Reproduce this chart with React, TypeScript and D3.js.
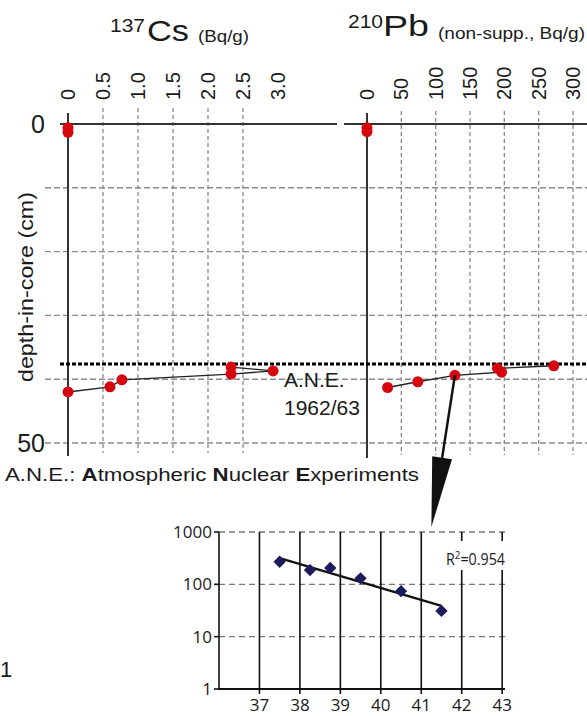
import React from 'react'
import * as d3 from 'd3'

// 137Cs profile (depth in cm, activity in Bq/g)
const csSurfaceDepth = [0.6, 1.3]
const csSurfaceValue = [0, 0]
const csDepth = [38.1, 38.7, 39.2, 40.1, 41.2, 42.0]
const csValue = [2.33, 2.93, 2.33, 0.77, 0.6, 0]

// 210Pb profile (non-supported, Bq/g)
const pbSurfaceDepth = [0.6, 1.2]
const pbSurfaceValue = [0, 0]
const pbDepth = [37.9, 38.3, 38.9, 39.4, 40.4, 41.3]
const pbValue = [272, 190, 196, 128, 74, 30]

// inset: log 210Pb against depth
const insetDepth = [37.5, 38.25, 38.75, 39.5, 40.5, 41.5]
const insetPb = [270, 187, 205, 130, 74, 31]

const csTicks = [0, 0.5, 1.0, 1.5, 2.0, 2.5, 3.0]
const csTickLabels = ['0', '0.5', '1.0', '1.5', '2.0', '2.5', '3.0']
const pbTicks = [0, 50, 100, 150, 200, 250, 300]
const depthGrid = [10, 20, 30, 40, 50]
const depthLabels = [0, 50]
const aneDepth = 37.6
const insetXTicks = [37, 38, 39, 40, 41, 42, 43]
const insetYTicks = [1, 10, 100, 1000]
const r2Label = '0.954'

const RED = '#d6060f'
const NAVY = '#1c1c5c'
const SANS = '"Liberation Sans", Arial, sans-serif'
const INSET_FONT = '"Open Sans", sans-serif'

export default function App() {
  const W = 587
  const H = 716

  const y = d3.scaleLinear().domain([0, 50]).range([124, 443])
  const xCs = d3.scaleLinear().domain([0, 3]).range([68, 278])
  const xPb = d3.scaleLinear().domain([0, 300]).range([367, 573])

  const xIn = d3.scaleLinear().domain([36, 43.07]).range([219, 505])
  const yIn = d3.scaleLog().domain([1, 1000]).range([689, 532])

  const csLine = d3.line<number>()
    .x((_, i) => xCs(csValue[i]))
    .y(d => y(d))
  const pbLine = d3.line<number>()
    .x((_, i) => xPb(pbValue[i]))
    .y(d => y(d))

  // exponential fit (least squares on log10) for the inset trend line
  const lx = insetDepth
  const ly = insetPb.map(v => Math.log10(v))
  const mx = d3.mean(lx) as number
  const my = d3.mean(ly) as number
  const slope = d3.sum(lx.map((v, i) => (v - mx) * (ly[i] - my))) / d3.sum(lx.map(v => (v - mx) ** 2))
  const fit = (d: number) => Math.pow(10, my + slope * (d - mx))
  const fitX0 = d3.min(insetDepth) as number
  const fitX1 = d3.max(insetDepth) as number

  const diamond = d3.symbol().type(d3.symbolSquare).size(76)()

  // arrow from the 3rd Pb point to the inset
  const ax0 = xPb(pbValue[3])
  const ay0 = y(pbDepth[3])
  const tipX = xIn(41.25)
  const tipY = yIn(1000) - 5
  const len = Math.hypot(tipX - ax0, tipY - ay0)
  const ux = (tipX - ax0) / len
  const uy = (tipY - ay0) / len
  const headLen = 70
  const bx = tipX - ux * headLen
  const by = tipY - uy * headLen
  const hw = 10
  const head = `M${tipX},${tipY}L${bx - uy * hw},${by + ux * hw}L${bx + uy * hw},${by - ux * hw}Z`

  return (
    <svg width={W} height={H} style={{ position: 'absolute', left: 0, top: 0, background: '#fff' }}
      fontFamily={SANS} fill="#1a1a1a">
      {/* titles */}
      <text y={32} x={110} fontSize={19} textLength={35} lengthAdjust="spacingAndGlyphs">137</text>
      <text y={41} x={147} fontSize={30} textLength={42} lengthAdjust="spacingAndGlyphs">Cs</text>
      <text y={42} x={198} fontSize={16} textLength={51} lengthAdjust="spacingAndGlyphs">(Bq/g)</text>
      <text y={28} x={348} fontSize={19} textLength={35} lengthAdjust="spacingAndGlyphs">210</text>
      <text y={36} x={383} fontSize={30} textLength={46} lengthAdjust="spacingAndGlyphs">Pb</text>
      <text y={39} x={438} fontSize={16} textLength={147} lengthAdjust="spacingAndGlyphs">(non-supp., Bq/g)</text>

      {/* rotated x tick labels */}
      {csTicks.map((t, i) => (
        <text key={'ct' + i} transform={`translate(${xCs(t) + 7},100) rotate(-90)`} fontSize={20}>{csTickLabels[i]}</text>
      ))}
      {pbTicks.map((t, i) => (
        <text key={'pt' + i} transform={`translate(${xPb(t) + 7},100) rotate(-90)`} fontSize={20}>{t}</text>
      ))}

      {/* horizontal dashed grid */}
      {depthGrid.map(d => (
        <line key={'hg' + d} x1={45} x2={587} y1={y(d)} y2={y(d)} stroke="#8a8a8a" strokeWidth={1.4} strokeDasharray="6,3" />
      ))}
      {/* vertical dashed grid */}
      {csTicks.filter(t => t > 0 && t < 3).map(t => (
        <line key={'cv' + t} x1={xCs(t)} x2={xCs(t)} y1={108} y2={453} stroke="#8a8a8a" strokeWidth={1.3} strokeDasharray="4,3" />
      ))}
      {pbTicks.filter(t => t > 0).map(t => (
        <line key={'pv' + t} x1={xPb(t)} x2={xPb(t)} y1={111} y2={455} stroke="#8a8a8a" strokeWidth={1.3} strokeDasharray="4,3" />
      ))}

      {/* axes */}
      <line x1={60} x2={337} y1={y(0)} y2={y(0)} stroke="#333" strokeWidth={2} />
      <line x1={344} x2={587} y1={y(0)} y2={y(0)} stroke="#333" strokeWidth={2} />
      <line x1={xCs(0)} x2={xCs(0)} y1={113} y2={456} stroke="#333" strokeWidth={2} />
      <line x1={xPb(0)} x2={xPb(0)} y1={113} y2={458} stroke="#333" strokeWidth={2} />

      {depthLabels.map(d => (
        <text key={'dl' + d} x={45} y={y(d) + 9} fontSize={25} textAnchor="end">{d}</text>
      ))}
      <text transform="translate(33,287) rotate(-90)" fontSize={21} textAnchor="middle"
        textLength={190} lengthAdjust="spacingAndGlyphs">depth-in-core (cm)</text>

      {/* A.N.E. horizon */}
      <line x1={60} x2={587} y1={y(aneDepth)} y2={y(aneDepth)} stroke="#000" strokeWidth={3} strokeDasharray="4,2" />
      <text x={284} y={387} fontSize={21}>A.N.E.</text>
      <text x={284} y={415} fontSize={21}>1962/63</text>

      {/* profiles */}
      <path d={csLine(csDepth) || ''} fill="none" stroke="#222" strokeWidth={1.4} />
      <path d={pbLine(pbDepth) || ''} fill="none" stroke="#222" strokeWidth={1.4} />
      {csDepth.map((d, i) => <circle key={'c' + i} cx={xCs(csValue[i])} cy={y(d)} r={5.5} fill={RED} />)}
      {csSurfaceDepth.map((d, i) => <circle key={'cs' + i} cx={xCs(csSurfaceValue[i])} cy={y(d)} r={5.5} fill={RED} />)}
      {pbDepth.map((d, i) => <circle key={'p' + i} cx={xPb(pbValue[i])} cy={y(d)} r={5.5} fill={RED} />)}
      {pbSurfaceDepth.map((d, i) => <circle key={'ps' + i} cx={xPb(pbSurfaceValue[i])} cy={y(d)} r={5.5} fill={RED} />)}

      {/* arrow */}
      <line x1={ax0} y1={ay0} x2={bx} y2={by} stroke="#111" strokeWidth={2.5} />
      <path d={head} fill="#111" />

      {/* legend note */}
      <text x={5} y={481} fontSize={19} textLength={414} lengthAdjust="spacingAndGlyphs">
        A.N.E.: <tspan fontWeight="bold">A</tspan>tmospheric <tspan fontWeight="bold">N</tspan>uclear <tspan fontWeight="bold">E</tspan>xperiments
      </text>

      {/* inset */}
      <g fontFamily={INSET_FONT}>
        {insetYTicks.filter(t => t > 1).map(t => (
          <line key={'ig' + t} x1={219} x2={505} y1={yIn(t)} y2={yIn(t)} stroke="#777" strokeWidth={1.3} strokeDasharray="6,4" />
        ))}
        {insetXTicks.map(t => (
          <line key={'iv' + t} x1={xIn(t)} x2={xIn(t)} y1={yIn(1000)} y2={694} stroke="#111" strokeWidth={1.6} />
        ))}
        <line x1={219} x2={219} y1={yIn(1000)} y2={yIn(1) + 1} stroke="#111" strokeWidth={1.6} />
        <line x1={219} x2={505} y1={yIn(1)} y2={yIn(1)} stroke="#111" strokeWidth={1.8} />
        {insetYTicks.map(t => (
          <g key={'iy' + t}>
            <line x1={214} x2={219} y1={yIn(t)} y2={yIn(t)} stroke="#111" strokeWidth={1.6} />
            <text x={212} y={yIn(t) + 6} fontSize={17} textAnchor="end">{t}</text>
          </g>
        ))}
        {insetXTicks.map(t => (
          <text key={'ix' + t} x={xIn(t)} y={711} fontSize={17} textAnchor="middle">{t}</text>
        ))}
        <rect x={441} y={541} width={66} height={29} fill="#fff" />
        <text x={446} y={565} fontSize={16} textLength={59} lengthAdjust="spacingAndGlyphs">R<tspan fontSize={11} dy={-6}>2</tspan><tspan dy={6}>={r2Label}</tspan></text>

        <line x1={xIn(fitX0)} y1={yIn(fit(fitX0))} x2={xIn(fitX1)} y2={yIn(fit(fitX1))} stroke="#111" strokeWidth={2.4} />
        {insetDepth.map((d, i) => (
          <path key={'dm' + i} d={diamond || ''} fill={NAVY}
            transform={`translate(${xIn(d)},${yIn(insetPb[i])}) rotate(45)`} />
        ))}
      </g>

      <text x={0} y={677} fontSize={22}>1</text>
    </svg>
  )
}
